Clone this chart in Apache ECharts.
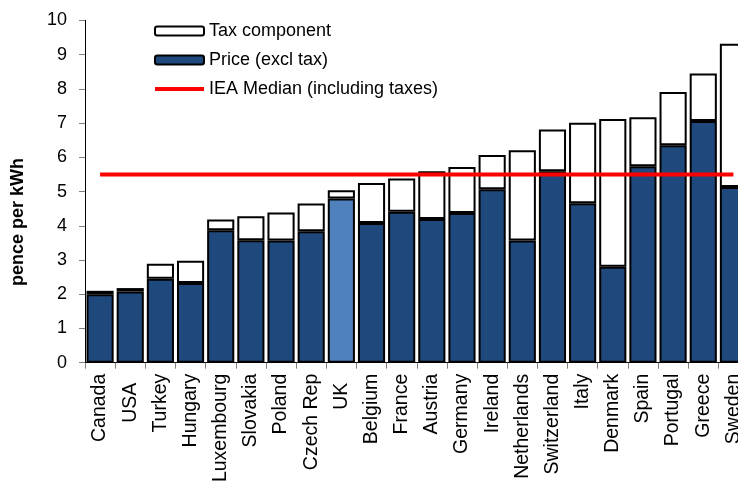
<!DOCTYPE html>
<html>
<head>
<meta charset="utf-8">
<script src="https://cdn.jsdelivr.net/npm/echarts@6/dist/echarts.min.js"></script>
<style>
html,body{margin:0;padding:0;background:#fff;}
#chart{width:738px;height:481px;}
</style>
</head>
<body>
<div id="chart"></div>
<script>
var categories = ['Canada','USA','Turkey','Hungary','Luxembourg','Slovakia','Poland','Czech Rep','UK','Belgium','France','Austria','Germany','Ireland','Netherlands','Switzerland','Italy','Denmark','Spain','Portugal','Greece','Sweden'];
var priceExclTax = [2.00,2.08,2.45,2.33,3.87,3.58,3.57,3.84,4.80,4.08,4.41,4.20,4.37,5.07,3.57,5.59,4.66,2.80,5.74,6.35,7.06,5.13];
var taxComponent = [0.10,0.10,0.44,0.65,0.31,0.70,0.82,0.81,0.24,1.17,0.97,1.39,1.35,1.00,2.64,1.22,2.35,4.32,1.43,1.56,1.39,4.19];
var ieaMedian = [5.5,5.5,5.5,5.5,5.5,5.5,5.5,5.5,5.5,5.5,5.5,5.5,5.5,5.5,5.5,5.5,5.5,5.5,5.5,5.5,5.5,5.5];
var yTicks = [0,1,2,3,4,5,6,7,8,9,10];
var highlight = 'UK';
var padded = ['USA','UK'];

var DARK = '#1F497D', LIGHT = '#4F81BD';
var FONT = 'Liberation Sans, Arial, sans-serif';
var chart = echarts.init(document.getElementById('chart'));

var priceData = priceExclTax.map(function(v,i){
  if (categories[i] === highlight) return {value:v, itemStyle:{color:LIGHT}};
  return v;
});

chart.setOption({
  animation:false,
  backgroundColor:'#fff',
  textStyle:{fontFamily:FONT},
  grid:{left:85, top:20.4, width:663.5, height:342.3, containLabel:false, outerBoundsMode:'none'},
  legend:{
    orient:'vertical', left:149, top:16, itemWidth:49, itemHeight:9, itemGap:9,
    data:[
      {name:'Tax component'},
      {name:'Price (excl tax)'},
      {name:'IEA Median (including taxes)', icon:'path://M0,0 L49,0 L49,4 L0,4 Z'}
    ],
    textStyle:{fontSize:18, color:'#000', lineHeight:20, fontFamily:FONT},
    selectedMode:false
  },
  xAxis:{
    type:'category', data:categories, boundaryGap:true,
    axisLine:{lineStyle:{color:'#000', width:1}},
    axisTick:{show:true, length:6, lineStyle:{color:'#808080'}},
    axisLabel:{rotate:90, interval:0, margin:11, fontSize:19.5, color:'#000', fontFamily:FONT,
      formatter:function(v){ return padded.indexOf(v) >= 0 ? '{pad|' + v + '}' : v; },
      rich:{pad:{padding:[0,9,0,0], fontSize:19.5, color:'#000', fontFamily:FONT}}
    }
  },
  yAxis:{
    type:'value', min:0, max:10, interval:1,
    axisLine:{show:true, lineStyle:{color:'#000', width:1}},
    axisTick:{show:true, length:6, lineStyle:{color:'#808080'}},
    splitLine:{show:false},
    axisLabel:{fontSize:18, color:'#000', margin:18, fontFamily:FONT,
      formatter:function(v){ return yTicks.indexOf(v) >= 0 ? String(v) : ''; }}
  },
  graphic:[{
    type:'text', x:18, y:222, rotation:Math.PI/2,
    style:{text:'pence per kWh', fontSize:18, fontWeight:'bold', fill:'#000', align:'center', verticalAlign:'middle',
      fontFamily:FONT}
  }],
  series:[
    {name:'Price (excl tax)', type:'bar', stack:'t', data:priceData, barCategoryGap:'10%',
     itemStyle:{color:DARK, borderColor:'#000', borderWidth:2}},
    {name:'Tax component', type:'bar', stack:'t', data:taxComponent,
     itemStyle:{color:'#fff', borderColor:'#000', borderWidth:2}},
    {name:'IEA Median (including taxes)', type:'line', data:ieaMedian, symbol:'none', showSymbol:false,
     lineStyle:{color:'#FF0000', width:4}, itemStyle:{color:'#FF0000'}, z:5}
  ]
});
</script>
</body>
</html>
